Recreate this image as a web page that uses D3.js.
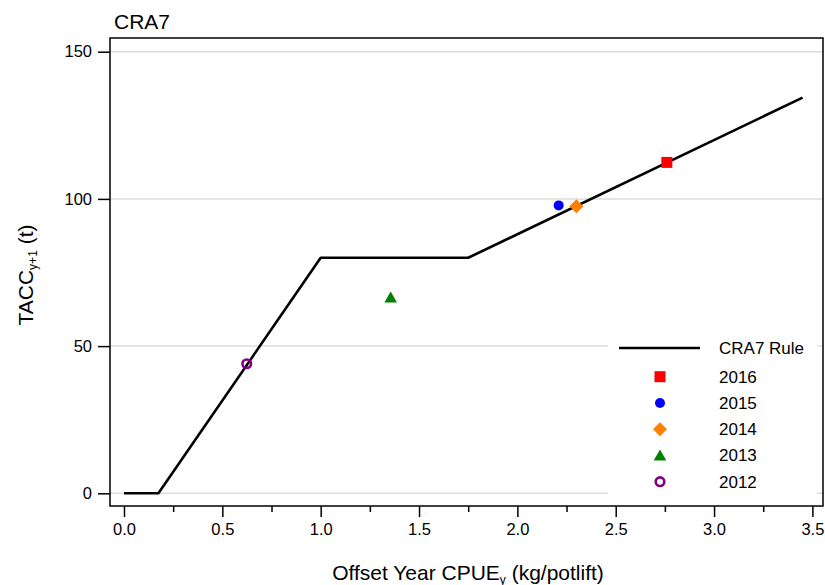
<!DOCTYPE html>
<html>
<head>
<meta charset="utf-8">
<script src="https://cdn.jsdelivr.net/npm/d3@7/dist/d3.min.js"></script>
<style>
  body { margin: 0; background: #fff; }
  svg { font-family: "Liberation Sans", Arial, sans-serif; }
</style>
</head>
<body>
<div id="chart"></div>
<script>
// harvest control rule
var ruleCpue = [0, 0.175, 1.0, 1.75, 3.45];
var ruleTacc = [0, 0, 80, 80, 134.4];

// observed years
var years = ["2016", "2015", "2014", "2013", "2012"];
var obsCpue = [2.76, 2.21, 2.30, 1.356, 0.624];
var obsTacc = [112.4, 97.8, 97.5, 66.5, 44.0];
var colors = ["#ff0000", "#0000ff", "#ff7f00", "#008000", "#800080"];
var shapes = ["square", "circle", "diamond", "triangle", "ring"];

var xTicks = [0, 0.5, 1.0, 1.5, 2.0, 2.5, 3.0, 3.5];
var xMinor = [0.25, 0.75, 1.25, 1.75, 2.25, 2.75, 3.25];
var yTicks = [0, 50, 100, 150];

var width = 825, height = 585;
var box = {left: 110, top: 38, right: 823, bottom: 506};

var svg = d3.select("#chart").append("svg")
    .attr("width", width)
    .attr("height", height);

var x = d3.scaleLinear().domain([0, 3.5]).range([124, 812.4]);
var y = d3.scaleLinear().domain([0, 150]).range([493.3, 51.7]);

// gridlines
svg.append("g").selectAll("line")
    .data(yTicks)
    .enter().append("line")
    .attr("x1", box.left).attr("x2", box.right)
    .attr("y1", function (d) { return y(d); })
    .attr("y2", function (d) { return y(d); })
    .attr("stroke", "#dcdcdc")
    .attr("stroke-width", 1.5);

// rule line
var line = d3.line()
    .x(function (d, i) { return x(ruleCpue[i]); })
    .y(function (d, i) { return y(ruleTacc[i]); });

svg.append("path")
    .datum(ruleCpue)
    .attr("d", line)
    .attr("fill", "none")
    .attr("stroke", "#000")
    .attr("stroke-width", 2.6)
    .attr("stroke-linejoin", "round");

function drawSymbol(g, shape, color) {
    if (shape === "square") {
        g.append("rect").attr("x", -5.5).attr("y", -5.5).attr("width", 11).attr("height", 11).attr("fill", color);
    } else if (shape === "circle") {
        g.append("circle").attr("r", 5).attr("fill", color);
    } else if (shape === "diamond") {
        g.append("path").attr("d", "M0,-7L7,0L0,7L-7,0Z").attr("fill", color);
    } else if (shape === "triangle") {
        g.append("path").attr("d", "M0,-6L6.3,5L-6.3,5Z").attr("fill", color);
    } else if (shape === "ring") {
        g.append("circle").attr("r", 4.3).attr("fill", "none").attr("stroke", color).attr("stroke-width", 2.6);
    }
}

// points
years.forEach(function (yr, i) {
    var g = svg.append("g")
        .attr("transform", "translate(" + x(obsCpue[i]) + "," + y(obsTacc[i]) + ")");
    drawSymbol(g, shapes[i], colors[i]);
});

// legend
var leg = svg.append("g");
leg.append("rect")
    .attr("x", 608).attr("y", 334)
    .attr("width", 209).attr("height", 163)
    .attr("fill", "#fff");
leg.append("line")
    .attr("x1", 619).attr("x2", 700)
    .attr("y1", 348).attr("y2", 348)
    .attr("stroke", "#000").attr("stroke-width", 2.6);
leg.append("text")
    .attr("x", 719).attr("y", 354)
    .attr("font-size", 17)
    .text("CRA7 Rule");
years.forEach(function (yr, i) {
    var cy = 376.7 + i * 26.25;
    var g = leg.append("g").attr("transform", "translate(660," + cy + ")");
    drawSymbol(g, shapes[i], colors[i]);
    leg.append("text")
        .attr("x", 719).attr("y", cy + 6)
        .attr("font-size", 17)
        .text(yr);
});

// plot box
svg.append("rect")
    .attr("x", box.left).attr("y", box.top)
    .attr("width", box.right - box.left)
    .attr("height", box.bottom - box.top)
    .attr("fill", "none")
    .attr("stroke", "#000")
    .attr("stroke-width", 1.5);

// axes
var yAxis = svg.append("g")
    .attr("transform", "translate(" + box.left + ",0)")
    .call(d3.axisLeft(y).tickValues(yTicks).tickSize(12).tickPadding(6).tickFormat(d3.format("d")));
yAxis.select(".domain").remove();

var xAxis = svg.append("g")
    .attr("transform", "translate(0," + box.bottom + ")")
    .call(d3.axisBottom(x).tickValues(xTicks).tickSize(11).tickPadding(6).tickFormat(d3.format(".1f")));
xAxis.select(".domain").remove();

var xAxisMinor = svg.append("g")
    .attr("transform", "translate(0," + box.bottom + ")")
    .call(d3.axisBottom(x).tickValues(xMinor).tickSize(6).tickFormat(""));
xAxisMinor.select(".domain").remove();

svg.selectAll(".tick line").attr("stroke", "#000").attr("stroke-width", 1.5);
svg.selectAll(".tick text")
    .attr("font-size", 16.5)
    .attr("font-family", "Liberation Sans, Arial, sans-serif")
    .attr("fill", "#000");

// title
svg.append("text")
    .attr("x", 114).attr("y", 29)
    .attr("font-size", 21)
    .text("CRA7");

// x axis title
var xt = svg.append("text")
    .attr("x", 468).attr("y", 580)
    .attr("text-anchor", "middle")
    .attr("font-size", 21);
xt.append("tspan").text("Offset Year CPUE");
xt.append("tspan").attr("font-size", 12).attr("dy", 4).text("y");
xt.append("tspan").attr("dy", -4).text(" (kg/potlift)");

// y axis title
var yt = svg.append("text")
    .attr("transform", "translate(33,275) rotate(-90)")
    .attr("text-anchor", "middle")
    .attr("font-size", 21);
yt.append("tspan").text("TACC");
yt.append("tspan").attr("font-size", 12).attr("dy", 4).text("y+1");
yt.append("tspan").attr("dy", -4).text(" (t)");
</script>
</body>
</html>
